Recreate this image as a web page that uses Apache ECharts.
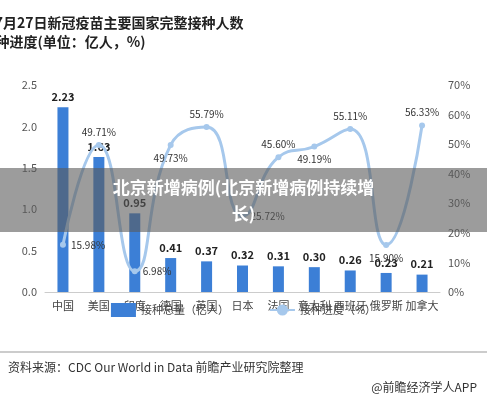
<!DOCTYPE html><html><head><meta charset="utf-8">
<script src="https://cdn.jsdelivr.net/npm/echarts@6/dist/echarts.min.js"></script>
<style>body{margin:0;background:#fff}#c{width:487px;height:402px}
#ban{position:absolute;left:0;top:168px;width:487px;height:64px;background:rgba(90,90,90,0.6);color:#fff;font:bold 17px "Noto Sans CJK SC";text-align:center;line-height:26px;padding-top:6px;box-sizing:border-box}</style>
</head><body><div id="c"></div><div id="ban">北京新增病例(北京新增病例持续增<br>长)</div>
<script>
const categories=['中国','美国','印度','德国','英国','日本','法国','意大利','西班牙','俄罗斯','加拿大'];
const doses=[2.23,1.63,0.95,0.41,0.37,0.32,0.31,0.30,0.26,0.23,0.21];
const progress=[15.98,49.71,6.98,49.73,55.79,25.72,45.60,49.19,55.11,15.90,56.33];
const labelPos=['right','top','right','bottom','top','right','top','bottom','top','bottom','top'];
const c=echarts.init(document.getElementById('c'));
const F='"Noto Sans CJK SC"';
c.setOption({
 textStyle:{fontFamily:F},
 title:{text:'图表2：截止2021年7月27日新冠疫苗主要国家完整接种人数\n及接种进度(单位：亿人，%)',left:'center',top:8,textAlign:'center',textStyle:{fontSize:14,fontWeight:'bold',color:'#222',lineHeight:19,fontFamily:F}},
 grid:{left:45,right:47,top:85,bottom:110},
 legend:{top:298,itemGap:40,textStyle:{fontSize:11,color:'#444'},data:[{name:'接种总量（亿人）',icon:'rect'},{name:'接种进度（%）'}]},
 xAxis:{type:'category',data:categories,axisTick:{show:false},axisLine:{lineStyle:{color:'#ccc'}},axisLabel:{color:'#444',fontSize:11,interval:0}},
 yAxis:[{type:'value',min:0,max:2.5,interval:0.5,axisLabel:{color:'#555',fontSize:11,formatter:v=>v.toFixed(1)},splitLine:{show:false}},
  {type:'value',min:0,max:70,interval:10,axisLabel:{color:'#555',fontSize:11,formatter:'{value}%'},splitLine:{show:false}}],
 series:[{name:'接种总量（亿人）',type:'bar',data:doses,barWidth:11,itemStyle:{color:'#3c7fd6'},label:{show:true,position:'top',fontWeight:'bold',fontSize:11,color:'#222',formatter:p=>p.value.toFixed(2)}},
  {name:'接种进度（%）',type:'line',yAxisIndex:1,smooth:true,data:progress.map((v,i)=>({value:v,label:{position:labelPos[i]}})),symbol:'circle',symbolSize:6,lineStyle:{color:'#a6c8ec',width:3},itemStyle:{color:'#a6c8ec'},label:{show:true,fontSize:10,color:'#333',formatter:p=>p.value.toFixed(2)+'%'}}],
 graphic:[{type:'line',shape:{x1:0,y1:352,x2:487,y2:352},style:{stroke:'#999'}},
  {type:'text',left:8,top:361,style:{text:'资料来源：CDC Our World in Data 前瞻产业研究院整理',fontSize:12,fill:'#333',fontFamily:F}},
  {type:'text',right:10,top:381,style:{text:'@前瞻经济学人APP',fontSize:12,fill:'#333',fontFamily:F}}]
});
</script></body></html>
